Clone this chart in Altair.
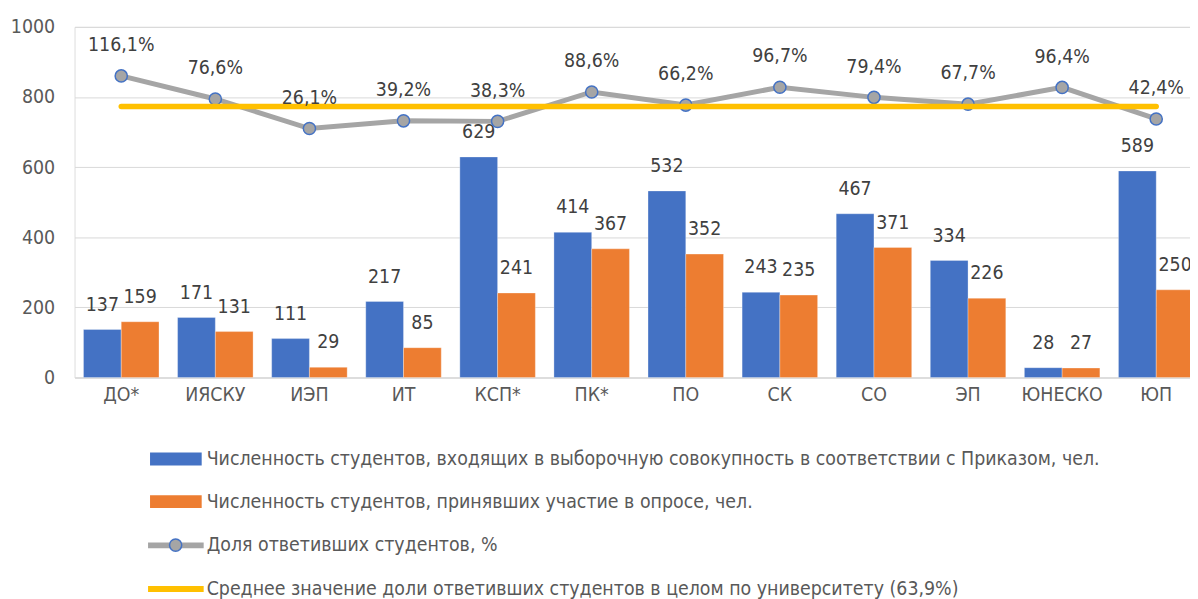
import altair as alt
import pandas as pd

categories = ["ДО*", "ИЯСКУ", "ИЭП", "ИТ", "КСП*", "ПК*", "ПО", "СК", "СО", "ЭП", "ЮНЕСКО", "ЮП"]
sample_counts = [137, 171, 111, 217, 629, 414, 532, 243, 467, 334, 28, 589]
respondent_counts = [159, 131, 29, 85, 241, 367, 352, 235, 371, 226, 27, 250]
response_share = [116.1, 76.6, 26.1, 39.2, 38.3, 88.6, 66.2, 96.7, 79.4, 67.7, 96.4, 42.4]
mean_share = 63.9

L1 = "Численность студентов, входящих в выборочную совокупность в соответствии с Приказом, чел."
L2 = "Численность студентов, принявших участие в опросе, чел."
L3 = "Доля ответивших студентов, %"
L4 = "Среднее значение доли ответивших студентов в целом по университету (63,9%)"

FONT = '"Liberation Sans Narrow", "Arial Narrow", "DejaVu Sans Condensed", sans-serif'
FS = 19.5

bars_df = pd.DataFrame(
    [{"cat": c, "series": L1, "value": v} for c, v in zip(categories, sample_counts)]
    + [{"cat": c, "series": L2, "value": v} for c, v in zip(categories, respondent_counts)]
)
share_df = pd.DataFrame({
    "cat": categories,
    "pct": response_share,
    "label": [f"{p:.1f}".replace(".", ",") + "%" for p in response_share],
    "lseries": L3,
})
mean_df = pd.DataFrame({"cat": categories, "pct": [mean_share] * len(categories), "lseries": L4})

x_enc = alt.X("cat:N", sort=categories, title=None,
              scale=alt.Scale(paddingInner=0.1975, paddingOuter=0.095, range=[0, 1136]),
              axis=alt.Axis(labelAngle=0, ticks=False, domainColor="#D9D9D9", labelPadding=8,
                            labelFont=FONT, labelFontSize=FS, labelColor="#595959"))
xoff = alt.XOffset("series:N", sort=[L1, L2], scale=alt.Scale(paddingInner=0, paddingOuter=0))
y_cnt = alt.Y("value:Q", title=None,
              scale=alt.Scale(domain=[0, 1000]),
              axis=alt.Axis(values=[0, 200, 400, 600, 800, 1000], format="d", ticks=False,
                            domain=False, gridColor="#D9D9D9", labelPadding=20, labelFont=FONT,
                            labelFontSize=FS, labelColor="#595959"))
y_pct = alt.Y("pct:Q", scale=alt.Scale(domain=[-400, 200]), axis=None)

bar_legend = alt.Legend(title=None, orient="none", legendX=89, legendY=422, direction="vertical",
                        symbolType="M-2,-0.5H2V0.5H-2Z", symbolSize=676, symbolStrokeWidth=0,
                        labelFont=FONT, labelFontSize=FS, labelColor="#595959", labelLimit=1200,
                        labelOffset=18, rowPadding=20, padding=0)
line_legend = alt.Legend(title=None, orient="none", legendX=85, legendY=505, direction="vertical",
                         symbolType="M-2,0H2", symbolSize=784, symbolStrokeWidth=6,
                         labelFont=FONT, labelFontSize=FS, labelColor="#595959", labelLimit=1200,
                         labelOffset=14, rowPadding=15, padding=0,
                         symbolFillColor="transparent")
point_legend = alt.Legend(title=None, orient="none", legendX=92, legendY=512, direction="vertical",
                          symbolType="circle", symbolSize=150, symbolStrokeColor="#4472C4",
                          symbolStrokeWidth=1.5, labelFont=FONT, labelFontSize=FS,
                          labelExpr="''", labelLimit=1200, padding=0)

bars = alt.Chart(bars_df).mark_bar(stroke="white", strokeWidth=0.6, strokeOpacity=0.5).encode(
    x=x_enc, xOffset=xoff, y=y_cnt,
    color=alt.Color("series:N", scale=alt.Scale(domain=[L1, L2], range=["#4472C4", "#ED7D31"]),
                    legend=bar_legend),
)
bar_labels = alt.Chart(bars_df).mark_text(font=FONT, fontSize=FS, color="#404040", dy=-25,
                                          baseline="middle").encode(
    x=x_enc, xOffset=xoff, y=y_cnt, text="value:Q"
)
count_group = alt.layer(bars, bar_labels)

stroke_enc = alt.Stroke("lseries:N", scale=alt.Scale(domain=[L3, L4], range=["#A5A5A5", "#FFC000"]),
                        legend=line_legend)
share_line = alt.Chart(share_df).mark_line(strokeWidth=5).encode(
    x=alt.X("cat:N", sort=categories), y=y_pct, stroke=stroke_enc
)
share_points = alt.Chart(share_df).mark_point(filled=True, size=150, stroke="#4472C4",
                                              strokeWidth=1.5, opacity=1).encode(
    x=alt.X("cat:N", sort=categories), y=y_pct,
    fill=alt.Fill("lseries:N", scale=alt.Scale(domain=[L3], range=["#A5A5A5"]), legend=point_legend),
)
mean_line = alt.Chart(mean_df).mark_line(strokeWidth=5.5, strokeCap="round").encode(
    x=alt.X("cat:N", sort=categories), y=y_pct, stroke=stroke_enc
)
share_labels = alt.Chart(share_df).mark_text(font=FONT, fontSize=FS, color="#404040", dy=-31,
                                             baseline="middle").encode(
    x=alt.X("cat:N", sort=categories), y=y_pct, text="label:N"
)
share_group = alt.layer(share_line, share_points, mean_line, share_labels)

chart = alt.layer(count_group, share_group).resolve_scale(y="independent").properties(
    width=1123, height=353,
    autosize=alt.AutoSizeParams(type="none"),
    padding={"left": 67, "top": 17, "right": 0, "bottom": 221},
).configure_view(stroke=None).configure(background="white")

chart.save("out.html", embed_options={"renderer": "svg", "actions": False})
